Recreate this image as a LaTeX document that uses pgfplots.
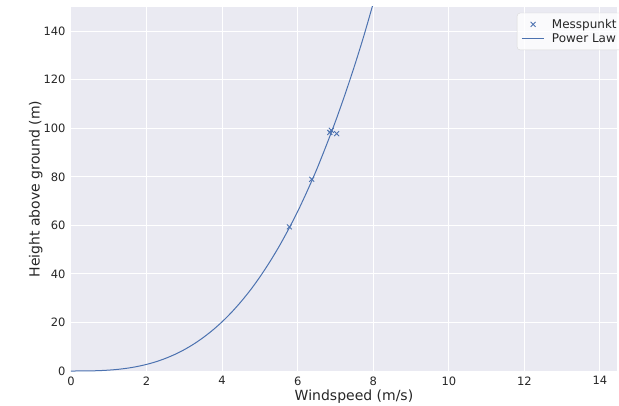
\documentclass[border=0pt]{standalone}
\usepackage{pgfplots}
\pgfplotsset{compat=1.18}
\usepackage{fontspec}
\setmainfont{DejaVu Sans}
\definecolor{sbbg}{HTML}{EAEAF2}
\definecolor{sbblue}{HTML}{4C72B0}
\definecolor{txt}{HTML}{262626}
\begin{document}
\begin{tikzpicture}
\begin{axis}[
  scale only axis, width=546pt, height=364pt,
  xmin=0, xmax=14.45, ymin=0, ymax=150,
  axis background/.style={fill=sbbg},
  axis line style={draw=none},
  major tick length=0pt,
  xtick={0,2,...,14}, ytick={0,20,...,140},
  grid=major, grid style={white, line width=1pt},
  /pgf/number format/assume math mode=true,
  tick label style={font=\fontsize{11.5}{13}\selectfont, color=txt},
  xticklabel style={yshift=-2pt},
  yticklabel style={xshift=-2pt},
  xlabel={Windspeed (m/s)}, ylabel={Height above ground (m)},
  label style={font=\fontsize{14}{16}\selectfont, color=txt},
  xlabel style={yshift=2pt, xshift=10pt},
  ylabel style={yshift=-6pt},
  legend style={at={(0.8168,0.984)}, anchor=north west, fill=white, fill opacity=0.8, text opacity=1, draw=gray!30, rounded corners=3pt, font=\fontsize{12}{14}\selectfont, text=txt, row sep=0pt, inner xsep=4pt, inner ysep=4pt, /tikz/every odd column/.append style={column sep=5pt}},
  legend cell align=left,
  legend image code/.code={\draw[mark repeat=2,mark phase=2] plot coordinates {(0cm,0cm) (0.4cm,0cm) (0.8cm,0cm)};},
]
\addplot[only marks, mark=x, mark size=3.5pt, color=sbblue, line width=0.9pt] coordinates {
  (5.78,59.4) (6.37,79.0) (6.85,98.3) (6.89,99.2) (7.03,97.8)
};
\addlegendentry{Messpunkt}
\addplot[color=sbblue, line width=1pt, smooth] coordinates {
  (0,0) (0.25,0.0065) (0.5,0.049) (0.75,0.158) (1,0.364) (1.25,0.696) (1.5,1.181) (1.75,1.847)
  (2,2.720) (2.25,3.826) (2.5,5.197) (2.75,6.85) (3,8.815) (3.25,11.12) (3.5,13.79) (3.75,16.84)
  (4,20.30) (4.25,24.2) (4.5,28.57) (4.75,33.4) (5,38.78) (5.25,44.7) (5.5,51.13) (5.75,58.2)
  (6,65.78) (6.25,74.1) (6.5,82.97) (6.75,92.7) (7,102.9) (7.25,113.9) (7.5,125.6) (7.75,138.1) (8,151.6)
};
\addlegendentry{Power Law}
\end{axis}
\pgfresetboundingbox
\path[use as bounding box] ([shift={(-71pt,-34pt)}]current axis.south west) rectangle ([shift={(2pt,7pt)}]current axis.north east);
\end{tikzpicture}
\end{document}
